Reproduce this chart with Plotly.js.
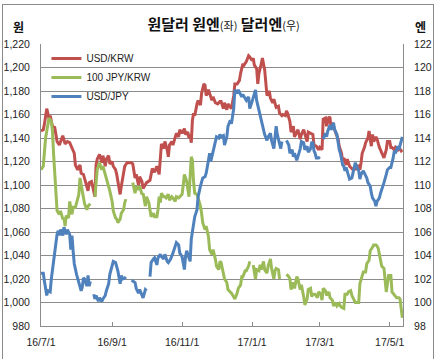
<!DOCTYPE html>
<html><head><meta charset="utf-8">
<script src="https://cdn.plot.ly/plotly-3.0.1.min.js"></script>
<style>
html,body{margin:0;padding:0;background:#fff;}
#chart{width:435px;height:359px;}
#frame{position:absolute;left:2px;top:4px;width:430px;height:370px;border:1px solid #8a8a8a;pointer-events:none;}
</style>
</head><body>
<div id="chart"></div><div id="frame"></div>
<script>
// USD/KRW (left axis, won)
const usdKrw = [
['2016-07-01',1146],['2016-07-03',1147],['2016-07-04',1152],['2016-07-06',1165],['2016-07-07',1161],['2016-07-08',1156],['2016-07-09',1159],['2016-07-11',1150],['2016-07-13',1149],['2016-07-15',1137],['2016-07-17',1134],['2016-07-18',1137],['2016-07-20',1142],['2016-07-22',1135],['2016-07-24',1137],['2016-07-26',1136],['2016-07-28',1132],['2016-07-30',1127],['2016-07-31',1117],
['2016-08-02',1113],['2016-08-04',1117],['2016-08-05',1110],['2016-08-07',1109],['2016-08-09',1103],['2016-08-11',1095],['2016-08-12',1102],['2016-08-14',1103],['2016-08-15',1099],['2016-08-17',1090],['2016-08-18',1117],['2016-08-19',1122],['2016-08-21',1126],['2016-08-23',1119],['2016-08-24',1125],['2016-08-26',1116],['2016-08-27',1122],['2016-08-29',1125],['2016-08-30',1118],
['2016-09-01',1120],['2016-09-02',1116],['2016-09-04',1113],['2016-09-05',1109],['2016-09-06',1102],['2016-09-08',1092],['2016-09-09',1099],['2016-09-11',1109],['2016-09-12',1116],['2016-09-14',1119],['2016-09-16',1119],['2016-09-18',1119],['2016-09-19',1118],['2016-09-21',1106],['2016-09-22',1109],['2016-09-24',1100],['2016-09-25',1107],['2016-09-27',1103],['2016-09-28',1097],
['2016-10-01',1102],['2016-10-04',1104],['2016-10-06',1114],['2016-10-08',1111],['2016-10-10',1116],['2016-10-12',1109],['2016-10-14',1135],['2016-10-16',1131],['2016-10-17',1137],['2016-10-19',1130],['2016-10-20',1124],['2016-10-21',1134],['2016-10-23',1137],['2016-10-24',1134],['2016-10-26',1140],['2016-10-27',1144],['2016-10-29',1141],['2016-10-30',1147],
['2016-11-01',1144],['2016-11-03',1148],['2016-11-04',1143],['2016-11-06',1145],['2016-11-07',1140],['2016-11-08',1143],['2016-11-09',1136],['2016-11-10',1155],['2016-11-11',1161],['2016-11-12',1159],['2016-11-14',1169],['2016-11-15',1172],['2016-11-17',1168],['2016-11-18',1178],['2016-11-20',1186],['2016-11-21',1185],['2016-11-22',1176],['2016-11-24',1181],['2016-11-25',1178],['2016-11-27',1172],['2016-11-28',1175],['2016-11-30',1170],
['2016-12-02',1169],['2016-12-04',1171],['2016-12-05',1171],['2016-12-07',1165],['2016-12-08',1170],['2016-12-10',1164],['2016-12-11',1169],['2016-12-14',1165],['2016-12-16',1176],['2016-12-17',1186],['2016-12-19',1186],['2016-12-21',1189],['2016-12-22',1195],['2016-12-24',1203],['2016-12-25',1202],['2016-12-27',1205],['2016-12-29',1210],['2016-12-30',1209],
['2017-01-01',1206],['2017-01-02',1208],['2017-01-03',1202],['2017-01-05',1199],['2017-01-06',1186],['2017-01-07',1195],['2017-01-09',1203],['2017-01-10',1208],['2017-01-12',1198],['2017-01-13',1182],['2017-01-14',1176],['2017-01-16',1180],['2017-01-17',1174],['2017-01-19',1170],['2017-01-20',1173],['2017-01-22',1166],['2017-01-24',1167],['2017-01-25',1161],['2017-01-27',1159],['2017-01-28',1160],['2017-01-30',1159],['2017-01-31',1163],
['2017-02-01',1161],['2017-02-03',1154],['2017-02-04',1145],['2017-02-06',1150],['2017-02-07',1141],['2017-02-09',1145],['2017-02-10',1147],['2017-02-12',1139],['2017-02-13',1143],['2017-02-15',1147],['2017-02-16',1143],['2017-02-18',1137],['2017-02-19',1145],['2017-02-21',1144],['2017-02-23',1143],['2017-02-24',1134],['2017-02-26',1133],['2017-02-28',1130],
['2017-03-01',1132],['2017-03-03',1130],['2017-03-04',1156],['2017-03-06',1157],['2017-03-07',1150],['2017-03-09',1158],['2017-03-10',1157],['2017-03-11',1147],['2017-03-12',1153],['2017-03-14',1147],['2017-03-15',1144],['2017-03-17',1139],['2017-03-18',1133],['2017-03-19',1130],['2017-03-20',1127],['2017-03-21',1120],['2017-03-22',1123],['2017-03-24',1117],['2017-03-25',1122],['2017-03-27',1116],['2017-03-28',1115],['2017-03-30',1113],
['2017-04-01',1115],['2017-04-02',1113],['2017-04-04',1117],['2017-04-05',1113],['2017-04-06',1119],['2017-04-07',1127],['2017-04-09',1132],['2017-04-10',1136],['2017-04-12',1140],['2017-04-13',1146],['2017-04-14',1139],['2017-04-15',1133],['2017-04-16',1143],['2017-04-17',1137],['2017-04-19',1141],['2017-04-20',1139],['2017-04-22',1132],['2017-04-23',1130],['2017-04-25',1126],['2017-04-26',1123],['2017-04-28',1130],['2017-04-29',1137],
['2017-05-01',1137],['2017-05-02',1132],['2017-05-03',1132],['2017-05-05',1130],['2017-05-06',1132],['2017-05-08',1130],['2017-05-09',1132],['2017-05-11',1129],['2017-05-12',1130]
];

// 100 JPY/KRW (left axis, won)
const jpyKrw = [
['2016-07-01',1113],['2016-07-03',1116],['2016-07-05',1140],['2016-07-07',1152],['2016-07-08',1157],['2016-07-10',1154],['2016-07-11',1146],['2016-07-12',1126],['2016-07-14',1098],['2016-07-15',1078],['2016-07-17',1075],['2016-07-18',1078],['2016-07-20',1071],['2016-07-21',1072],['2016-07-22',1065],['2016-07-23',1074],['2016-07-25',1072],['2016-07-26',1086],['2016-07-28',1075],['2016-07-29',1081],['2016-07-31',1081],
['2016-08-01',1084],['2016-08-03',1092],['2016-08-04',1106],['2016-08-05',1101],['2016-08-07',1089],['2016-08-08',1084],['2016-08-10',1079],['2016-08-11',1082],['2016-08-13',1084],['2016-08-15',null],['2016-08-17',1090],['2016-08-18',1105],['2016-08-19',1113],['2016-08-21',1119],['2016-08-23',1113],['2016-08-24',1116],['2016-08-26',1109],['2016-08-27',1105],['2016-08-29',1099],['2016-08-30',1095],
['2016-09-01',1086],['2016-09-02',1078],['2016-09-04',1072],['2016-09-05',1071],['2016-09-06',1068],['2016-09-08',1071],['2016-09-09',1076],['2016-09-11',1079],['2016-09-12',1085],['2016-09-13',1088],['2016-09-16',null],['2016-09-19',1102],['2016-09-21',1093],['2016-09-22',1099],['2016-09-24',1096],['2016-09-25',1099],['2016-09-27',1092],['2016-09-28',1093],['2016-09-30',1082],
['2016-10-01',1090],['2016-10-03',1085],['2016-10-04',1079],['2016-10-05',1073],['2016-10-07',1076],['2016-10-08',1073],['2016-10-10',1073],['2016-10-11',1079],['2016-10-12',1090],['2016-10-13',1085],['2016-10-14',1093],['2016-10-16',1090],['2016-10-17',1090],['2016-10-18',1089],['2016-10-20',1092],['2016-10-21',1087],['2016-10-23',1090],['2016-10-24',1089],['2016-10-26',1086],['2016-10-27',1090],['2016-10-29',1089],['2016-10-30',1090],
['2016-11-01',1092],['2016-11-02',1100],['2016-11-03',1109],['2016-11-05',1103],['2016-11-06',1096],['2016-11-07',1090],['2016-11-09',1124],['2016-11-10',1121],['2016-11-11',1103],['2016-11-12',1093],['2016-11-14',1092],['2016-11-15',1089],['2016-11-17',1082],['2016-11-18',1076],['2016-11-19',1068],['2016-11-21',1062],['2016-11-22',1065],['2016-11-24',1056],['2016-11-25',1045],['2016-11-27',1041],['2016-11-28',1045],['2016-11-30',1037],
['2016-12-01',1031],['2016-12-03',1028],['2016-12-04',1035],['2016-12-05',1034],['2016-12-07',1025],['2016-12-08',1020],['2016-12-10',1017],['2016-12-11',1011],['2016-12-14',1008],['2016-12-16',1004],['2016-12-17',1003],['2016-12-19',1008],['2016-12-20',1012],['2016-12-22',1015],['2016-12-23',1022],['2016-12-24',1022],['2016-12-26',1027],['2016-12-27',1027],['2016-12-29',1031],['2016-12-30',1035],
['2017-01-01',null],['2017-01-02',1032],['2017-01-04',1020],['2017-01-05',1028],['2017-01-07',1027],['2017-01-08',1032],['2017-01-09',1028],['2017-01-11',1035],['2017-01-12',1028],['2017-01-14',1025],['2017-01-15',1031],['2017-01-17',1037],['2017-01-18',1029],['2017-01-20',1020],['2017-01-21',1027],['2017-01-22',1029],['2017-01-24',1028],['2017-01-25',1020],['2017-01-27',null],['2017-01-31',1024],
['2017-02-02',1022],['2017-02-03',1020],['2017-02-04',1011],['2017-02-06',1017],['2017-02-07',1012],['2017-02-09',1022],['2017-02-10',1020],['2017-02-12',1011],['2017-02-13',1015],['2017-02-15',1005],['2017-02-16',998],['2017-02-18',1003],['2017-02-19',1011],['2017-02-21',1012],['2017-02-22',1005],['2017-02-23',1007],['2017-02-25',1007],['2017-02-27',1004],['2017-02-28',1009],
['2017-03-02',1007],['2017-03-03',1002],['2017-03-04',1012],['2017-03-06',1010],['2017-03-07',1006],['2017-03-09',1009],['2017-03-10',1004],['2017-03-12',1002],['2017-03-13',997],['2017-03-15',1000],['2017-03-16',997],['2017-03-18',999],['2017-03-19',997],['2017-03-20',996],['2017-03-22',995],['2017-03-23',1007],['2017-03-25',1007],['2017-03-26',1009],['2017-03-28',1010],['2017-03-29',1006],['2017-03-31',1002],
['2017-04-01',1000],['2017-04-03',1000],['2017-04-04',1000],['2017-04-05',1016],['2017-04-07',1024],['2017-04-08',1026],['2017-04-10',1026],['2017-04-11',1033],['2017-04-13',1036],['2017-04-14',1044],['2017-04-16',1047],['2017-04-17',1049],['2017-04-19',1049],['2017-04-20',1048],['2017-04-21',1046],['2017-04-23',1036],['2017-04-24',1031],['2017-04-26',1029],['2017-04-27',1016],['2017-04-28',1009],['2017-04-30',1023],
['2017-05-01',1023],['2017-05-02',1023],['2017-05-03',1009],['2017-05-05',1006],['2017-05-07',1004],['2017-05-09',1004],['2017-05-10',1003],['2017-05-11',995],['2017-05-12',987]
];

// USD/JPY (right axis, yen)
const usdJpy = [
['2016-07-01',102.5],['2016-07-03',102.5],['2016-07-04',101.8],['2016-07-06',100.6],['2016-07-07',101.0],['2016-07-09',100.9],['2016-07-10',102.0],['2016-07-12',103.6],['2016-07-13',104.7],['2016-07-15',105.8],['2016-07-16',106.1],['2016-07-17',105.7],['2016-07-18',106.2],['2016-07-20',105.7],['2016-07-21',106.4],['2016-07-23',105.8],['2016-07-24',106.2],['2016-07-26',105.8],['2016-07-27',104.5],['2016-07-28',105.7],['2016-07-29',104.4],['2016-07-30',103.3],
['2016-08-01',102.4],['2016-08-02',102.0],['2016-08-03',101.6],['2016-08-05',101.0],['2016-08-06',101.3],['2016-08-07',102.1],['2016-08-08',102.0],['2016-08-10',101.4],['2016-08-11',102.3],['2016-08-12',101.4],['2016-08-13',101.8],['2016-08-15',null],['2016-08-16',100.7],['2016-08-17',100.3],['2016-08-18',100.6],['2016-08-20',100.1],['2016-08-21',100.4],['2016-08-23',100.1],['2016-08-24',100.3],['2016-08-26',100.6],['2016-08-27',101.0],['2016-08-29',101.6],['2016-08-30',102.4],
['2016-09-01',103.3],['2016-09-02',103.5],['2016-09-04',103.4],['2016-09-05',103.0],['2016-09-06',102.7],['2016-09-08',101.6],['2016-09-09',102.3],['2016-09-10',102.0],['2016-09-12',102.1],['2016-09-13',102.0],['2016-09-16',null],['2016-09-18',101.9],['2016-09-21',101.7],['2016-09-22',101.2],['2016-09-24',100.8],['2016-09-25',101.1],['2016-09-27',100.5],['2016-09-28',100.4],['2016-09-30',101.1],
['2016-10-01',101.0],['2016-10-03',null],['2016-10-04',102.2],['2016-10-05',103.4],['2016-10-07',103.7],['2016-10-08',103.8],['2016-10-10',103.2],['2016-10-11',103.8],['2016-10-13',104.1],['2016-10-14',103.9],['2016-10-16',103.7],['2016-10-17',104.1],['2016-10-19',103.5],['2016-10-20',103.4],['2016-10-22',103.7],['2016-10-23',103.9],['2016-10-24',104.2],['2016-10-26',104.8],['2016-10-27',105.1],['2016-10-29',104.9],['2016-10-30',104.2],
['2016-11-01',103.9],['2016-11-02',103.2],['2016-11-03',102.8],['2016-11-04',103.9],['2016-11-05',104.4],['2016-11-06',104.1],['2016-11-08',103.5],['2016-11-09',105.4],['2016-11-10',106.2],['2016-11-11',106.5],['2016-11-12',107.3],['2016-11-14',107.9],['2016-11-15',109.0],['2016-11-17',109.9],['2016-11-18',110.2],['2016-11-19',110.6],['2016-11-21',110.7],['2016-11-22',111.0],['2016-11-24',112.1],['2016-11-25',112.7],['2016-11-26',112.0],['2016-11-27',112.4],['2016-11-29',113.3],['2016-11-30',113.6],
['2016-12-01',114.1],['2016-12-03',114.0],['2016-12-04',114.3],['2016-12-05',114.1],['2016-12-07',114.2],['2016-12-08',113.4],['2016-12-10',114.1],['2016-12-11',115.0],['2016-12-13',115.5],['2016-12-14',115.2],['2016-12-16',116.5],['2016-12-17',118.1],['2016-12-19',117.8],['2016-12-20',118.1],['2016-12-22',117.7],['2016-12-23',117.5],['2016-12-24',117.7],['2016-12-26',117.4],['2016-12-27',117.2],['2016-12-29',117.5],['2016-12-30',116.5],
['2017-01-01',117.1],['2017-01-02',117.5],['2017-01-04',118.1],['2017-01-05',117.2],['2017-01-07',116.4],['2017-01-08',116.0],['2017-01-09',115.4],['2017-01-11',114.7],['2017-01-12',114.3],['2017-01-14',113.8],['2017-01-15',114.1],['2017-01-17',114.4],['2017-01-18',113.8],['2017-01-20',113.1],['2017-01-21',114.3],['2017-01-22',115.0],['2017-01-23',114.3],['2017-01-25',113.4],['2017-01-26',113.1],['2017-01-27',113.7],['2017-01-29',null],['2017-01-31',113.8],
['2017-02-02',113.4],['2017-02-03',112.7],['2017-02-05',113.0],['2017-02-06',112.4],['2017-02-07',112.7],['2017-02-09',112.1],['2017-02-10',112.4],['2017-02-12',113.1],['2017-02-13',113.7],['2017-02-15',113.6],['2017-02-16',113.0],['2017-02-18',113.3],['2017-02-19',112.8],['2017-02-21',113.1],['2017-02-22',113.6],['2017-02-23',113.6],['2017-02-24',112.9],['2017-02-25',112.7],['2017-02-26',112.3],['2017-02-28',112.3],
['2017-03-01',112.4],['2017-03-02',null],['2017-03-04',113.9],['2017-03-06',114.4],['2017-03-07',114.1],['2017-03-08',114.6],['2017-03-10',115.1],['2017-03-11',114.7],['2017-03-13',115.3],['2017-03-14',114.7],['2017-03-16',114.3],['2017-03-17',113.6],['2017-03-18',113.0],['2017-03-19',112.7],['2017-03-20',112.3],['2017-03-21',111.7],['2017-03-22',111.6],['2017-03-23',111.2],['2017-03-24',111.5],['2017-03-26',110.7],['2017-03-27',110.5],['2017-03-29',110.6],['2017-03-30',111.0],
['2017-04-01',111.9],['2017-04-02',111.6],['2017-04-04',111.2],['2017-04-05',110.5],['2017-04-06',110.9],['2017-04-08',111.2],['2017-04-09',111.0],['2017-04-11',110.6],['2017-04-12',110.2],['2017-04-14',109.9],['2017-04-15',109.3],['2017-04-16',108.9],['2017-04-18',108.6],['2017-04-19',108.2],['2017-04-20',108.6],['2017-04-22',108.9],['2017-04-23',109.3],['2017-04-25',109.8],['2017-04-26',110.2],['2017-04-28',110.9],['2017-04-29',111.3],
['2017-05-01',111.5],['2017-05-02',111.5],['2017-05-04',112.3],['2017-05-05',112.9],['2017-05-06',112.7],['2017-05-08',113.3],['2017-05-09',113.0],['2017-05-11',113.7],['2017-05-12',114.1]
];

const seriesNames = ['USD/KRW', '100 JPY/KRW', 'USD/JPY'];
const seriesColors = ['#C0504D', '#9BBB59', '#4F81BD'];
const xTickStart = '2016-07-01';
const xRange = ['2016-07-01', '2017-05-12 14:00'];
const leftRange = [980, 1220];
const rightRange = [98, 122];

const xs = a => a.map(p => p[0]);
const ys = a => a.map(p => p[1]);

const lineStyle = c => ({color: c, width: 3});
const traces = [
  {x: xs(usdKrw), y: ys(usdKrw), name: seriesNames[0], type: 'scatter', mode: 'lines', line: lineStyle(seriesColors[0]), connectgaps: false, yaxis: 'y'},
  {x: xs(jpyKrw), y: ys(jpyKrw), name: seriesNames[1], type: 'scatter', mode: 'lines', line: lineStyle(seriesColors[1]), connectgaps: false, yaxis: 'y'},
  {x: xs(usdJpy), y: ys(usdJpy), name: seriesNames[2], type: 'scatter', mode: 'lines', line: lineStyle(seriesColors[2]), connectgaps: false, yaxis: 'y2'}
];

const FONT = 'Liberation Sans, Arial, sans-serif';
const KFONT = 'Noto Sans CJK KR, sans-serif';
const gridC = '#8c8c8c';

const layout = {
  width: 435, height: 359,
  margin: {l: 41, r: 32, t: 44, b: 33, pad: 0},
  paper_bgcolor: 'rgba(0,0,0,0)', plot_bgcolor: 'rgba(0,0,0,0)',
  showlegend: true,
  legend: {x: 0.015, y: 1.0, xanchor: 'left', yanchor: 'top', bgcolor: 'rgba(0,0,0,0)',
           font: {family: FONT, size: 10, color: '#222'}, tracegroupgap: 0},
  title: {
    text: '원달러 원엔<span style="font-size:11px;font-weight:normal">(좌)</span> 달러엔<span style="font-size:11px;font-weight:normal">(우)</span>',
    font: {family: KFONT, size: 15, color: '#111', weight: 'bold'},
    x: 0.514, xref: 'container', xanchor: 'center',
    y: 1 - 25/359, yref: 'container', yanchor: 'middle'
  },
  xaxis: {
    type: 'date', range: xRange, tick0: xTickStart, dtick: 'M2', tickformat: '%y/%-m/%-d',
    showgrid: false, showline: true, linecolor: gridC, linewidth: 1,
    ticks: 'inside', ticklen: 4, tickcolor: gridC,
    tickfont: {family: FONT, size: 10.5, color: '#222'}, ticklabelstandoff: 6,
    zeroline: false, fixedrange: true
  },
  yaxis: {
    range: leftRange, dtick: 20, tick0: 980, tickformat: ',d',
    showgrid: true, gridcolor: gridC, gridwidth: 1,
    showline: true, linecolor: gridC, linewidth: 1, ticks: '',
    tickfont: {family: FONT, size: 10.5, color: '#222'}, ticklabelstandoff: 8,
    zeroline: false, fixedrange: true
  },
  yaxis2: {
    range: rightRange, dtick: 2, tick0: 98, overlaying: 'y', side: 'right',
    showgrid: false, showline: true, linecolor: gridC, linewidth: 1, ticks: '',
    tickfont: {family: FONT, size: 10.5, color: '#222'}, ticklabelstandoff: 8,
    zeroline: false, fixedrange: true
  },
  annotations: [
    {text: '<b>원</b>', xref: 'paper', yref: 'paper', x: (18.5 - 41) / 362, y: (326 - 26) / 282, xanchor: 'center', yanchor: 'middle', showarrow: false, font: {family: KFONT, size: 12, color: '#111'}},
    {text: '<b>엔</b>', xref: 'paper', yref: 'paper', x: (420.5 - 41) / 362, y: (326 - 26) / 282, xanchor: 'center', yanchor: 'middle', showarrow: false, font: {family: KFONT, size: 12, color: '#111'}}
  ]
};

Plotly.newPlot('chart', traces, layout, {staticPlot: true, displayModeBar: false});
</script>
</body></html>
